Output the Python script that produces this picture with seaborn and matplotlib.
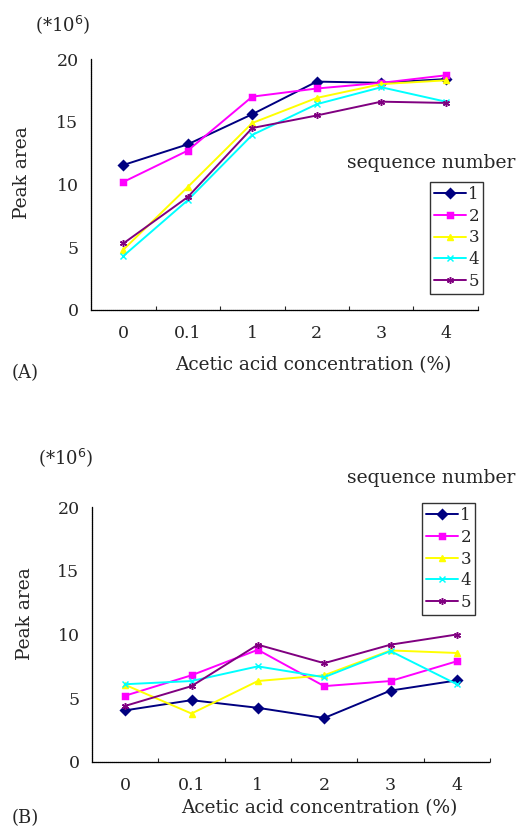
import numpy as np
import pandas as pd
import matplotlib
matplotlib.use("Agg")
from matplotlib import pyplot as plt
import seaborn as sns

# data
concs = ["0", "0.1", "1", "2", "3", "4"]
seqs = ["1", "2", "3", "4", "5"]

# panel (A), peak area in units of 1e6
a_seq1 = [11.55, 13.2, 15.6, 18.2, 18.1, 18.4]
a_seq2 = [10.2, 12.7, 17.0, 17.65, 18.1, 18.7]
a_seq3 = [4.8, 9.8, 14.9, 16.9, 18.0, 18.3]
a_seq4 = [4.3, 8.75, 13.95, 16.4, 17.75, 16.6]
a_seq5 = [5.3, 9.0, 14.5, 15.5, 16.6, 16.5]

# panel (B)
b_seq1 = [4.05, 4.85, 4.25, 3.45, 5.6, 6.4]
b_seq2 = [5.2, 6.8, 8.8, 5.95, 6.35, 7.9]
b_seq3 = [6.05, 3.8, 6.35, 6.8, 8.75, 8.55]
b_seq4 = [6.1, 6.35, 7.5, 6.65, 8.7, 6.1]
b_seq5 = [4.4, 5.95, 9.2, 7.75, 9.2, 10.0]

colors = ["#000080", "#ff00ff", "#ffff00", "#00ffff", "#800080"]
markers = ["D", "s", "^", "x", (6, 2, 0)]


def to_long(series):
    rows = []
    for s, vals in zip(seqs, series):
        for c, v in zip(concs, vals):
            rows.append({"conc": c, "area": v, "seq": s})
    return pd.DataFrame(rows)


df_a = to_long([a_seq1, a_seq2, a_seq3, a_seq4, a_seq5])
df_b = to_long([b_seq1, b_seq2, b_seq3, b_seq4, b_seq5])

sns.set_style("white")
plt.rcParams["font.family"] = ["DejaVu Serif"]
plt.rcParams["font.size"] = 12

W, H = 518, 832
fig = plt.figure(figsize=(W / 100, H / 100), dpi=100)

# axes boxes in pixels: left, right, top, bottom
boxes = [(91, 478, 59, 310), (92, 490, 507, 762)]
panels = [df_a, df_b]
legend_pos = [(430, 182), (422, 503)]
seq_txt = [(515, 163), (515, 478)]
exp_txt = [(35, 25), (38, 458)]
lab_txt = [(12, 373), (12, 818)]
ylab_pos = [(22, 173), (25, 614)]
xlab_y = [365, 808]
xlab_x = [313, 319]

for i, df in enumerate(panels):
    l, r, t, b = boxes[i]
    ax = fig.add_axes([l / W, 1 - b / H, (r - l) / W, (b - t) / H])
    sns.pointplot(data=df, x="conc", y="area", hue="seq", order=concs,
                  hue_order=seqs, palette=colors, markers=markers,
                  linestyles="-", errorbar=None, ax=ax,
                  markersize=5, linewidth=1.4)
    ax.set_xlim(-0.5, 5.5)
    ax.set_ylim(0, 20)
    ax.set_yticks([0, 5, 10, 15, 20])
    ax.set_xticks(range(6))
    ax.set_xticklabels(concs)
    ax.set_xticks(np.arange(0.5, 6, 1), minor=True)
    ax.tick_params(axis="x", which="major", length=0, pad=11, labelsize=12.5)
    ax.tick_params(axis="x", which="minor", length=3, direction="in",
                   bottom=True, width=0.8)
    ax.tick_params(axis="y", length=0, pad=9, labelsize=12.5)
    ax.set_xlabel("")
    ax.set_ylabel("")
    for s in ["top", "right"]:
        ax.spines[s].set_visible(False)
    for s in ["left", "bottom"]:
        ax.spines[s].set_color("black")
        ax.spines[s].set_linewidth(0.9)
        ax.spines[s].set_linestyle((0, (1, 0.6)))

    handles, labels = ax.get_legend_handles_labels()
    ax.get_legend().remove()
    lx, ly = legend_pos[i]
    leg = ax.legend(handles, labels, loc="upper left",
                    bbox_to_anchor=(lx / W, 1 - ly / H),
                    bbox_transform=fig.transFigure, fancybox=False,
                    framealpha=1, edgecolor="#333333", handlelength=1.9,
                    handletextpad=0.15, labelspacing=0.28, borderpad=0.25,
                    borderaxespad=0, fontsize=12)
    leg.get_frame().set_linewidth(1.0)

    fig.text(seq_txt[i][0] / W, 1 - seq_txt[i][1] / H, "sequence number",
             ha="right", va="center", fontsize=13.5)
    fig.text(exp_txt[i][0] / W, 1 - exp_txt[i][1] / H, r"(*10$^6$)",
             ha="left", va="center", fontsize=13)
    fig.text(lab_txt[i][0] / W, 1 - lab_txt[i][1] / H,
             "(A)" if i == 0 else "(B)", ha="left", va="center", fontsize=13)
    fig.text(xlab_x[i] / W, 1 - xlab_y[i] / H, "Acetic acid concentration (%)",
             ha="center", va="center", fontsize=13.3)
    fig.text(ylab_pos[i][0] / W, 1 - ylab_pos[i][1] / H, "Peak area",
             ha="center", va="center", rotation=90, fontsize=13.5)

fig.savefig("out.png", dpi=100)
